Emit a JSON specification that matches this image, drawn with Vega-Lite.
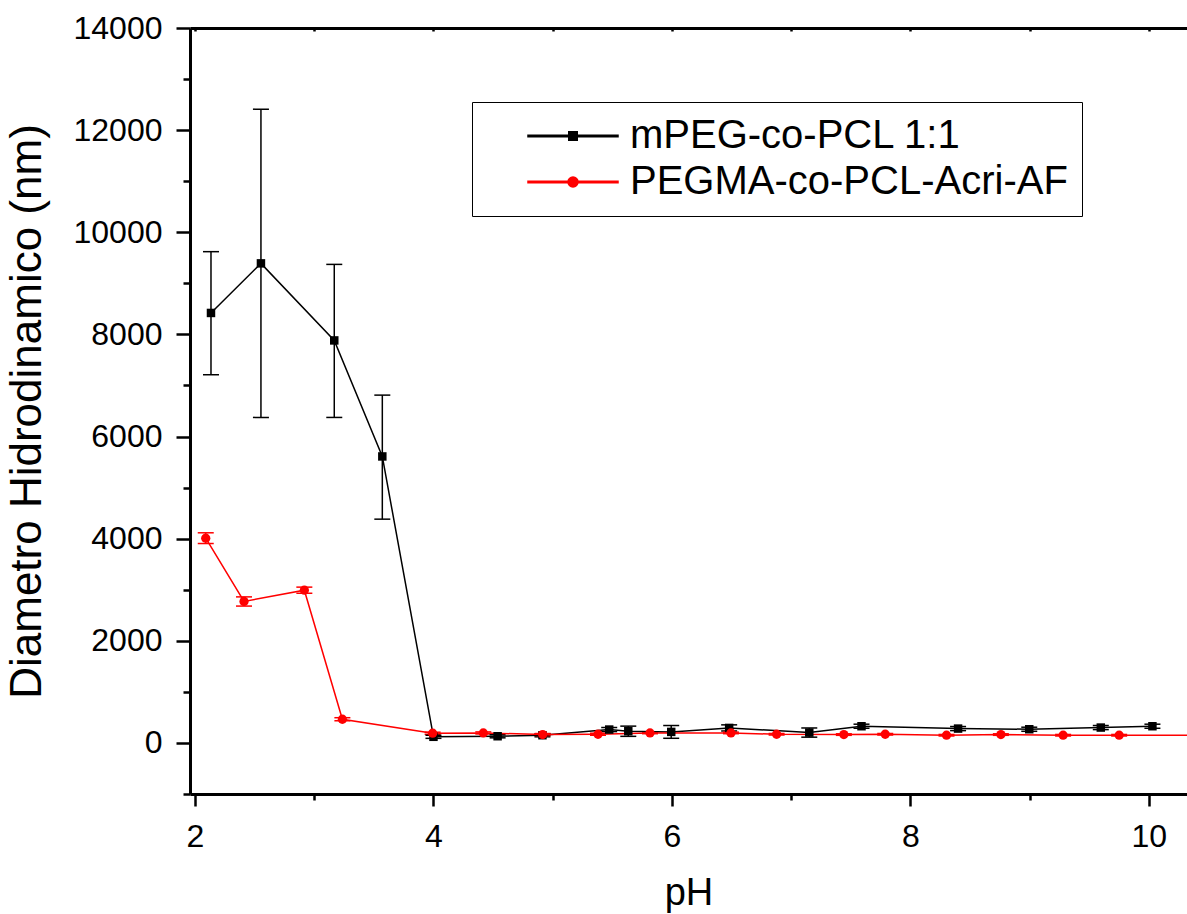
{
  "$schema": "https://vega.github.io/schema/vega-lite/v6.json",
  "width": 997,
  "height": 766,
  "autosize": {"type": "none"},
  "padding": {"left": 190, "top": 28, "right": 0, "bottom": 120},
  "background": "white",
  "config": {
    "view": {"stroke": null},
    "font": "Liberation Sans",
    "axis": {
      "labelFont": "Liberation Sans",
      "titleFont": "Liberation Sans",
      "labelColor": "#000000",
      "titleColor": "#000000",
      "domainColor": "#000000",
      "tickColor": "#000000",
      "labelFontSize": 32,
      "titleFontSize": 38,
      "titleFontWeight": "normal",
      "grid": false,
      "domainWidth": 3,
      "tickWidth": 2.5
    },
    "legend": {
      "labelFont": "Liberation Sans",
      "labelFontSize": 40,
      "labelColor": "#000000",
      "labelLimit": 1000
    }
  },
  "data": {
    "values": [
      {"series": "mPEG-co-PCL 1:1", "pH": 2.134, "d": 8420, "lo": 7210, "hi": 9620},
      {"series": "mPEG-co-PCL 1:1", "pH": 2.553, "d": 9391, "lo": 6374, "hi": 12410},
      {"series": "mPEG-co-PCL 1:1", "pH": 3.168, "d": 7882, "lo": 6374, "hi": 9371},
      {"series": "mPEG-co-PCL 1:1", "pH": 3.571, "d": 5610, "lo": 4382, "hi": 6811},
      {"series": "mPEG-co-PCL 1:1", "pH": 4.0, "d": 120, "lo": 90, "hi": 150},
      {"series": "mPEG-co-PCL 1:1", "pH": 4.538, "d": 131, "lo": 100, "hi": 160},
      {"series": "mPEG-co-PCL 1:1", "pH": 4.914, "d": 151, "lo": 120, "hi": 180},
      {"series": "mPEG-co-PCL 1:1", "pH": 5.474, "d": 262, "lo": 222, "hi": 302},
      {"series": "mPEG-co-PCL 1:1", "pH": 5.634, "d": 229, "lo": 129, "hi": 329},
      {"series": "mPEG-co-PCL 1:1", "pH": 5.994, "d": 216, "lo": 91, "hi": 341},
      {"series": "mPEG-co-PCL 1:1", "pH": 6.48, "d": 294, "lo": 234, "hi": 354},
      {"series": "mPEG-co-PCL 1:1", "pH": 7.152, "d": 203, "lo": 113, "hi": 293},
      {"series": "mPEG-co-PCL 1:1", "pH": 7.59, "d": 327, "lo": 287, "hi": 367},
      {"series": "mPEG-co-PCL 1:1", "pH": 8.4, "d": 281, "lo": 241, "hi": 321},
      {"series": "mPEG-co-PCL 1:1", "pH": 8.997, "d": 268, "lo": 228, "hi": 308},
      {"series": "mPEG-co-PCL 1:1", "pH": 9.597, "d": 301, "lo": 261, "hi": 341},
      {"series": "mPEG-co-PCL 1:1", "pH": 10.03, "d": 327, "lo": 287, "hi": 367},
      {"series": "PEGMA-co-PCL-Acri-AF", "pH": 2.09, "d": 4010, "lo": 3905, "hi": 4115},
      {"series": "PEGMA-co-PCL-Acri-AF", "pH": 2.411, "d": 2770, "lo": 2680, "hi": 2860},
      {"series": "PEGMA-co-PCL-Acri-AF", "pH": 2.917, "d": 2991, "lo": 2931, "hi": 3051},
      {"series": "PEGMA-co-PCL-Acri-AF", "pH": 3.236, "d": 464, "lo": 434, "hi": 494},
      {"series": "PEGMA-co-PCL-Acri-AF", "pH": 3.993, "d": 190, "lo": 170, "hi": 210},
      {"series": "PEGMA-co-PCL-Acri-AF", "pH": 4.418, "d": 196, "lo": 176, "hi": 216},
      {"series": "PEGMA-co-PCL-Acri-AF", "pH": 4.916, "d": 164, "lo": 144, "hi": 184},
      {"series": "PEGMA-co-PCL-Acri-AF", "pH": 5.38, "d": 170, "lo": 150, "hi": 190},
      {"series": "PEGMA-co-PCL-Acri-AF", "pH": 5.816, "d": 196, "lo": 181, "hi": 211},
      {"series": "PEGMA-co-PCL-Acri-AF", "pH": 6.495, "d": 196, "lo": 181, "hi": 211},
      {"series": "PEGMA-co-PCL-Acri-AF", "pH": 6.878, "d": 170, "lo": 155, "hi": 185},
      {"series": "PEGMA-co-PCL-Acri-AF", "pH": 7.442, "d": 164, "lo": 149, "hi": 179},
      {"series": "PEGMA-co-PCL-Acri-AF", "pH": 7.789, "d": 170, "lo": 155, "hi": 185},
      {"series": "PEGMA-co-PCL-Acri-AF", "pH": 8.303, "d": 151, "lo": 136, "hi": 166},
      {"series": "PEGMA-co-PCL-Acri-AF", "pH": 8.759, "d": 164, "lo": 149, "hi": 179},
      {"series": "PEGMA-co-PCL-Acri-AF", "pH": 9.281, "d": 151, "lo": 136, "hi": 166},
      {"series": "PEGMA-co-PCL-Acri-AF", "pH": 9.751, "d": 151, "lo": 136, "hi": 166},
      {"series": "PEGMA-co-PCL-Acri-AF", "pH": 10.45, "d": 150, "lo": 135, "hi": 165}
    ]
  },
  "resolve": {"axis": {"x": "independent", "y": "independent"}},
  "layer": [
    {
      "mark": {"type": "rule", "strokeWidth": 1.5, "clip": true},
      "encoding": {
        "x": {"field": "pH", "type": "quantitative",
          "scale": {"domain": [1.958, 10.32], "nice": false, "zero": false},
          "axis": {"orient": "bottom", "values": [2, 4, 6, 8, 10], "format": "d", "tickSize": 12, "labelPadding": 15, "title": "pH", "titlePadding": 22, "labelFlush": false}},
        "y": {"field": "lo", "type": "quantitative",
          "scale": {"domain": [-1000, 14000], "nice": false, "zero": false},
          "axis": {"orient": "left", "values": [0, 2000, 4000, 6000, 8000, 10000, 12000, 14000], "format": "d", "tickSize": 14, "labelPadding": 14, "title": "Diametro Hidrodinamico (nm)", "titleFontSize": 44, "titlePadding": 24, "labelFlush": false}},
        "y2": {"field": "hi"},
        "color": {"field": "series", "type": "nominal",
          "scale": {"domain": ["mPEG-co-PCL 1:1", "PEGMA-co-PCL-Acri-AF"], "range": ["#000000", "#ff0000"]}}
      }
    },
    {
      "mark": {"type": "tick", "orient": "horizontal", "size": 16, "thickness": 1.5, "clip": true, "opacity": 1},
      "encoding": {
        "x": {"field": "pH", "type": "quantitative",
          "axis": {"orient": "bottom", "values": [3, 5, 7, 9], "tickSize": 6, "labels": false, "domain": false, "title": null}},
        "y": {"field": "lo", "type": "quantitative",
          "axis": {"orient": "left", "values": [-1000, 1000, 3000, 5000, 7000, 9000, 11000, 13000], "tickSize": 7, "labels": false, "domain": false, "title": null}},
        "color": {"field": "series", "type": "nominal"}
      }
    },
    {
      "mark": {"type": "tick", "orient": "horizontal", "size": 16, "thickness": 1.5, "clip": true, "opacity": 1},
      "encoding": {
        "x": {"field": "pH", "type": "quantitative",
          "axis": {"orient": "top", "values": [2, 3, 4, 5, 6, 7, 8, 9, 10], "tickSize": -3, "labels": false, "domain": true, "title": null}},
        "y": {"field": "hi", "type": "quantitative", "axis": null},
        "color": {"field": "series", "type": "nominal"}
      }
    },
    {
      "mark": {"type": "line", "strokeWidth": 1.5, "clip": true},
      "encoding": {
        "x": {"field": "pH", "type": "quantitative", "axis": null},
        "y": {"field": "d", "type": "quantitative", "axis": null},
        "color": {"field": "series", "type": "nominal"}
      }
    },
    {
      "transform": [{"filter": {"field": "series", "equal": "mPEG-co-PCL 1:1"}}],
      "mark": {"type": "point", "shape": "square", "filled": true, "opacity": 1, "size": 72, "clip": true},
      "encoding": {
        "x": {"field": "pH", "type": "quantitative", "axis": null},
        "y": {"field": "d", "type": "quantitative", "axis": null},
        "color": {"field": "series", "type": "nominal"}
      }
    },
    {
      "transform": [{"filter": {"field": "series", "equal": "PEGMA-co-PCL-Acri-AF"}}],
      "mark": {"type": "point", "shape": "circle", "filled": true, "opacity": 1, "size": 86, "clip": true},
      "encoding": {
        "x": {"field": "pH", "type": "quantitative", "axis": null},
        "y": {"field": "d", "type": "quantitative", "axis": null},
        "color": {"field": "series", "type": "nominal"}
      }
    },
    {
      "mark": {"type": "point", "filled": true, "opacity": 0, "size": 10, "clip": true},
      "encoding": {
        "x": {"field": "pH", "type": "quantitative", "axis": null},
        "y": {"field": "d", "type": "quantitative", "axis": null},
        "color": {"field": "series", "type": "nominal",
          "legend": {
            "title": null,
            "orient": "none",
            "legendX": 282,
            "legendY": 74,
            "padding": 14,
            "symbolOffset": 67,
            "labelOffset": 37,
            "rowPadding": 6,
            "strokeColor": "#000000",
            "fillColor": "#ffffff",
            "symbolSize": 100,
            "symbolOpacity": 1
          }},
        "shape": {"field": "series", "type": "nominal",
          "scale": {"domain": ["mPEG-co-PCL 1:1", "PEGMA-co-PCL-Acri-AF"],
            "range": ["M-9,-0.15H-0.85V0.15H-9ZM0.85,-0.15H9V0.15H0.85ZM-0.85,-0.85H0.85V0.85H-0.85Z", "M-9,-0.15H-1V0.15H-9ZM1,-0.15H9V0.15H1ZM-1,0A1,1 0 1,0 1,0A1,1 0 1,0 -1,0Z"]},
          "legend": {
            "title": null,
            "orient": "none",
            "legendX": 282,
            "legendY": 74,
            "padding": 14,
            "symbolOffset": 67,
            "labelOffset": 37,
            "rowPadding": 6,
            "strokeColor": "#000000",
            "fillColor": "#ffffff",
            "symbolSize": 100,
            "symbolOpacity": 1
          }}
      }
    }
  ]
}
